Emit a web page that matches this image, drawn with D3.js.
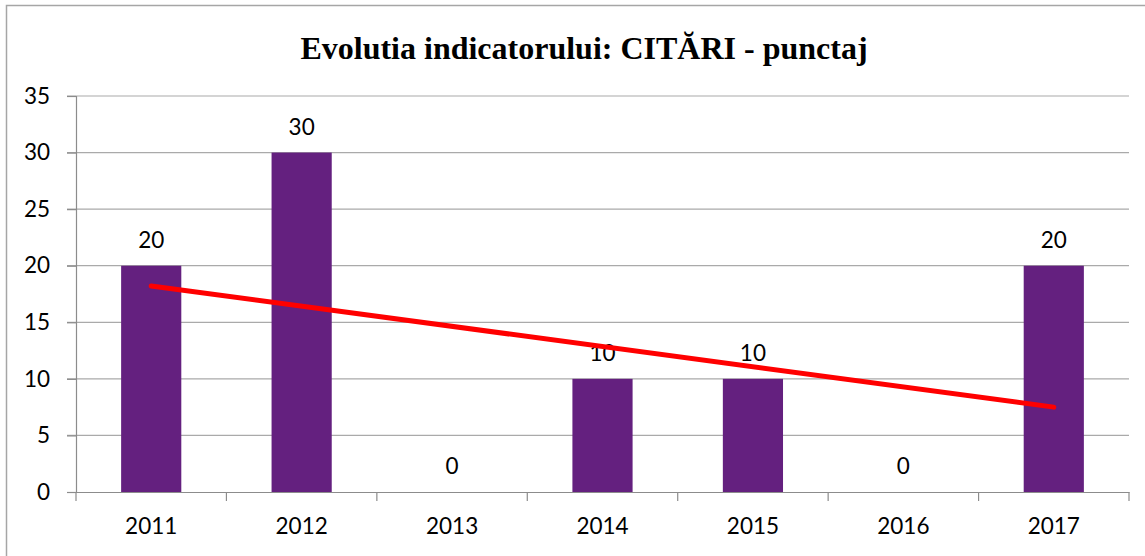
<!DOCTYPE html>
<html>
<head>
<meta charset="utf-8">
<script src="https://cdn.jsdelivr.net/npm/d3@7.9.0/dist/d3.min.js"></script>
<style>
  html, body { margin: 0; padding: 0; background: #fff; }
  svg { display: block; }
</style>
</head>
<body>
<svg width="1145" height="556"></svg>
<script>
const years = ['2011', '2012', '2013', '2014', '2015', '2016', '2017'];
const values = [20, 30, 0, 10, 10, 0, 20];
const yTicks = [0, 5, 10, 15, 20, 25, 30, 35];
const title = 'Evolutia indicatorului: CITĂRI - punctaj';

const svg = d3.select('svg');
const W = 1145, H = 556;
const plot = { left: 76, right: 1129, top: 96, bottom: 492 };
const labelFont = 'Lato, "Open Sans", sans-serif';

// chart frame
svg.append('rect')
  .attr('x', 6.5).attr('y', 5.5)
  .attr('width', W + 10).attr('height', H + 10)
  .attr('fill', '#fff')
  .attr('stroke', '#a6a6a6')
  .attr('stroke-width', 1.5);

const x = d3.scaleBand().domain(years).range([plot.left, plot.right]).padding(0);
const y = d3.scaleLinear().domain([0, 35]).range([plot.bottom, plot.top]);

// gridlines
svg.append('g')
  .selectAll('line')
  .data(yTicks.filter(d => d > 0))
  .join('line')
  .attr('x1', plot.left - 9).attr('x2', plot.right)
  .attr('y1', d => y(d)).attr('y2', d => y(d))
  .attr('stroke', '#aaaaaa')
  .attr('stroke-width', 1.2);

// y axis
const yAxis = svg.append('g')
  .attr('transform', `translate(${plot.left},0)`)
  .call(d3.axisLeft(y).tickValues(yTicks).tickSize(9).tickPadding(17));
yAxis.select('.domain').attr('stroke', '#8c8c8c').attr('stroke-width', 1.2);
yAxis.selectAll('.tick line').attr('stroke', '#8c8c8c').attr('stroke-width', 1.2);
yAxis.selectAll('text')
  .attr('fill', '#000')
  .style('font-family', labelFont)
  .style('font-size', '22.5px');

// bars
const barW = x.bandwidth() * 0.4;
svg.append('g')
  .selectAll('rect')
  .data(values)
  .join('rect')
  .attr('x', (d, i) => x(years[i]) + (x.bandwidth() - barW) / 2)
  .attr('y', d => y(d))
  .attr('width', barW)
  .attr('height', d => y(0) - y(d))
  .attr('fill', '#64207f');

// x axis
const xAxis = svg.append('g')
  .attr('transform', `translate(0,${plot.bottom})`)
  .call(d3.axisBottom(x).tickSize(0).tickPadding(26));
xAxis.select('.domain').attr('stroke', '#8c8c8c').attr('stroke-width', 1.2);
xAxis.selectAll('text')
  .attr('fill', '#000')
  .style('font-family', labelFont)
  .style('font-size', '22.5px');
xAxis.selectAll('line.sep')
  .data(d3.range(years.length + 1))
  .join('line')
  .attr('class', 'sep')
  .attr('x1', i => plot.left + i * x.step())
  .attr('x2', i => plot.left + i * x.step())
  .attr('y1', 0).attr('y2', 9)
  .attr('stroke', '#8c8c8c')
  .attr('stroke-width', 1.2);

// data labels
svg.append('g')
  .selectAll('text')
  .data(values)
  .join('text')
  .attr('x', (d, i) => x(years[i]) + x.bandwidth() / 2)
  .attr('y', d => y(d) - 18)
  .attr('text-anchor', 'middle')
  .style('font-family', labelFont)
  .style('font-size', '22.5px')
  .text(d => d);

// linear trendline
const idx = values.map((d, i) => i + 1);
const mx = d3.mean(idx), my = d3.mean(values);
const slope = d3.sum(idx, (t, i) => (t - mx) * (values[i] - my)) / d3.sum(idx, t => (t - mx) ** 2);
const trend = t => my + slope * (t - mx);
const ends = [1, years.length];
svg.append('path')
  .datum(ends)
  .attr('d', d3.line()
    .x(t => x(years[t - 1]) + x.bandwidth() / 2)
    .y(t => y(trend(t))))
  .attr('fill', 'none')
  .attr('stroke', '#ff0000')
  .attr('stroke-width', 5)
  .attr('stroke-linecap', 'round');

// title
svg.append('text')
  .attr('x', 584)
  .attr('y', 59)
  .attr('text-anchor', 'middle')
  .style('font-family', '"Liberation Serif", "Times New Roman", serif')
  .style('font-weight', 'bold')
  .style('font-size', '32px')
  .text(title);
</script>
</body>
</html>
